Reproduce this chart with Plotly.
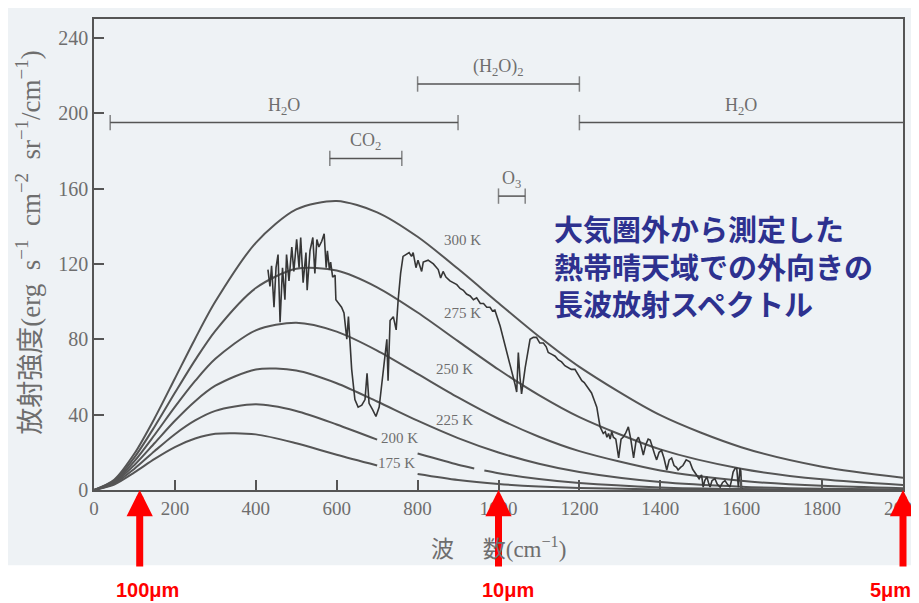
import plotly.graph_objects as go

# ---------------- data ----------------
NU = [0, 50, 100, 150, 200, 250, 300, 400, 500, 600, 700, 800, 900, 1000,
      1100, 1200, 1400, 1600, 1800, 2000]
B300 = [0, 5.49, 19.35, 38.17, 59.19, 80.32, 100.0, 131.2, 148.9, 153.4, 147.4,
        134.4, 117.4, 99.25, 81.5, 65.37, 39.7, 22.7, 12.37, 6.5]
B275 = [0, 4.98, 17.32, 33.72, 51.58, 68.96, 84.52, 107.2, 117.4, 116.5, 107.6,
        94.21, 79.0, 63.96, 50.36, 38.68, 21.54, 11.29, 5.64, 2.72]
B250 = [0, 4.47, 15.31, 29.32, 44.08, 57.87, 69.6, 84.75, 88.78, 84.07, 74.02,
        61.66, 49.16, 37.83, 28.28, 20.63, 10.36, 4.89, 2.2, 0.96]
B225 = [0, 3.95, 13.3, 24.97, 36.74, 47.15, 55.34, 64.0, 63.43, 56.68, 46.99,
        36.8, 27.57, 19.93, 13.98, 9.57, 4.23, 1.76, 0.7, 0.27]
NU200 = [0, 50, 100, 150, 200, 250, 300, 400, 500, 600, 700, 750, 800, 900, 940,
         952, 965, 1000, 1100, 1200, 1400, 1600, 1800, 2000]
B200 = [0, 3.44, 11.31, 20.7, 29.63, 36.92, 42.01, 45.45, 41.95, 34.8, 26.74, None,
        19.36, 13.42, 11.45, None, 10.35, 8.95, 5.8, 3.67, 1.38, 0.49, 0.165, 0.054]
NU175 = [0, 50, 100, 150, 200, 250, 300, 400, 500, 600, 700, 750, 800, 900, 1000,
         1100, 1200, 1400, 1600, 1800, 2000]
B175 = [0, 2.93, 9.34, 16.53, 22.8, 27.32, 29.83, 29.53, 24.81, 18.67, 12.97, None,
        8.5, 5.31, 3.2, 1.87, 1.07, 0.33, 0.095, 0.026, 0.007]

SPEC_NU = [430, 435, 439, 445, 450, 455, 460, 466, 472, 476, 482, 489, 494, 501, 507,
           511, 517, 524, 527, 534, 541, 546, 551, 556, 563, 569, 574, 577, 582, 585,
           590, 596, 598, 604, 612, 618, 625, 629, 633, 637, 645, 653, 662, 670, 675,
           680, 689, 697, 705, 711, 719, 724, 727, 732, 740, 747, 752, 758, 764, 773,
           779, 785, 789, 796, 801, 810, 814, 826, 839, 851, 857, 863, 870, 880, 888,
           897, 905, 913, 921, 930, 938, 946, 955, 963, 971, 979, 985, 991, 1004, 1020,
           1036, 1041, 1045, 1049, 1053, 1057, 1066, 1078, 1086, 1094, 1102, 1111, 1118,
           1123, 1132, 1140, 1148, 1156, 1164, 1172, 1180, 1189, 1197, 1206, 1212, 1218,
           1224, 1230, 1236, 1243, 1251, 1255, 1259, 1264, 1268, 1272, 1276, 1280, 1284,
           1290, 1297, 1303, 1308, 1314, 1321, 1327, 1334, 1340, 1346, 1352, 1358, 1364,
           1370, 1375, 1381, 1386, 1391, 1397, 1403, 1409, 1416, 1422, 1428, 1434, 1440,
           1444, 1450, 1456, 1464, 1473, 1480, 1486, 1490, 1496, 1502, 1506, 1510, 1515,
           1519, 1523, 1528, 1535, 1541, 1548, 1554, 1560, 1566, 1572, 1576, 1580, 1585,
           1589, 1593, 1597, 1599, 1601]
SPEC_B = [117, 108, 119, 97, 118, 125, 89, 118, 101, 125, 111, 129, 116, 133, 118,
          134, 110, 126, 106, 127, 134, 115, 133, 129, 132, 136, 118, 127, 117, 121,
          113, 114, 101, 99, 97, 94, 80, 92, 75, 64, 48, 44, 45, 48, 62,
          46, 42.5, 39, 44, 55, 69, 80, 58, 90, 92, 85, 101, 115, 124, 125,
          126, 124, 126, 118, 122, 116, 121, 122, 120, 117, 112.5, 116, 113, 111, 110,
          109, 107, 106, 104, 103, 101, 102, 99, 99, 97, 97, 95, 95.5, 87, 74,
          60, 56, 52, 73, 60, 51, 65, 80, 81, 81, 78, 78, 76,
          73, 72, 71, 69, 68, 66, 65, 64, 64, 61, 58, 57, 55,
          53, 51.5, 48, 44, 33.6, 32, 30, 31, 28, 30, 27, 31, 28,
          27, 17, 27, 28, 30, 33.5, 27, 17, 26, 28, 24, 18.6, 24,
          27, 26.5, 22, 19, 16, 20, 21, 17, 10.6, 16, 17, 13, 12,
          10.6, 12, 13, 16, 15, 11, 9, 8, 6, 8, 1.5, 5, 7,
          4, 1.6, 5, 6, 3, 1.5, 4, 5, 3, 1.6, 5, 9.5, 11.5,
          11.5, 1.5, 11.5, 10, 0.5]

TEMP_LABELS = ["300 K", "275 K", "250 K", "225 K", "200 K", "175 K"]
TEMP_LABEL_NU = [910, 910, 892, 892, 756, 749]
TEMP_LABEL_B = [132.7, 94, 64.2, 37.2, 27.6, 14.3]

BAND_LABELS = ["H<sub>2</sub>O", "(H<sub>2</sub>O)<sub>2</sub>", "H<sub>2</sub>O",
               "CO<sub>2</sub>", "O<sub>3</sub>"]
BAND_START = [40, 800, 1200, 583, 1000]
BAND_END = [900, 1200, 2000, 761, 1066]
BAND_LEVEL = [195, 215.5, 195, 176, 156]

NOTE_LINES = ["大気圏外から測定した", "熱帯晴天域での外向きの", "長波放射スペクトル"]
NOTE_NU = 1132
NOTE_B = 119.4

ARROW_NU = [113, 1000, 2000]
ARROW_LABELS = ["100μm", "10μm", "5μm"]
ARROW_LABEL_NU = [133, 1023, 1970]

X_TICKS = [0, 200, 400, 600, 800, 1000, 1200, 1400, 1600, 1800, 2000]
Y_TICKS = [0, 40, 80, 120, 160, 200, 240]

# ---------------- styling ----------------
SCAN_BG = "#eef2f5"
INK = "#555555"
TXT = "#6e6e6e"
SERIF = "Liberation Serif, Noto Sans CJK JP, serif"

fig = go.Figure()

for xs, ys in [(NU, B300), (NU, B275), (NU, B250), (NU, B225), (NU200, B200), (NU175, B175)]:
    fig.add_trace(go.Scatter(x=xs, y=ys, mode="lines",
                             line=dict(color=INK, width=2, shape="spline", smoothing=0.8),
                             connectgaps=False, hoverinfo="skip", showlegend=False))

fig.add_trace(go.Scatter(x=SPEC_NU, y=SPEC_B, mode="lines", line=dict(color="#363636", width=1.6),
                         hoverinfo="skip", showlegend=False))

for s, e, lv in zip(BAND_START, BAND_END, BAND_LEVEL):
    sizes = [11, 11] if e < 2000 else [11, 0]
    fig.add_trace(go.Scatter(x=[s, e], y=[lv, lv], mode="lines+markers",
                             line=dict(color=INK, width=1.5),
                             marker=dict(symbol="line-ns", size=sizes, line=dict(color=INK, width=1.5)),
                             hoverinfo="skip", showlegend=False))

annotations = []
for t, x, y in zip(TEMP_LABELS, TEMP_LABEL_NU, TEMP_LABEL_B):
    annotations.append(dict(x=x, y=y, xref="x", yref="y", text=t, showarrow=False,
                            font=dict(family=SERIF, size=15, color=TXT)))
for lab, s, e, lv in zip(BAND_LABELS, BAND_START, BAND_END, BAND_LEVEL):
    annotations.append(dict(x=(s + e) / 2, y=lv, xref="x", yref="y", text=lab, showarrow=False,
                            yanchor="bottom", yshift=3,
                            font=dict(family=SERIF, size=18, color=TXT)))
annotations.append(dict(x=NOTE_NU, y=NOTE_B, xref="x", yref="y",
                        text="<b>" + "<br>".join(NOTE_LINES) + "</b>",
                        showarrow=False, xanchor="left", yanchor="middle", align="left",
                        font=dict(family="Noto Sans CJK JP", size=29, color="#2d318f")))
for x in ARROW_NU:
    annotations.append(dict(x=x, y=0, xref="x", yref="y", text="", showarrow=True,
                            ax=0, ay=78, arrowcolor="#ff0000", arrowwidth=7, arrowhead=2,
                            arrowsize=0.75, standoff=0))
for lab, x in zip(ARROW_LABELS, ARROW_LABEL_NU):
    annotations.append(dict(x=x, y=-0.2123, xref="x", yref="paper", text="<b>" + lab + "</b>",
                            showarrow=False, xanchor="center", yanchor="middle",
                            font=dict(family="Liberation Sans, Arial", size=20, color="#ff0000")))
# axis titles
annotations.append(dict(x=-0.0816, y=0.525, xref="paper", yref="paper", textangle=-90, showarrow=False,
                        xanchor="center", yanchor="middle",
                        text="放射強度(erg&nbsp; s<sup>−1</sup>&nbsp; cm<sup>−2</sup>&nbsp; sr<sup>−1</sup>/cm<sup>−1</sup>)",
                        font=dict(family=SERIF, size=27, color=TXT)))
annotations.append(dict(x=0.5, y=-0.123, xref="paper", yref="paper", showarrow=False,
                        xanchor="center", yanchor="middle",
                        text="波　&nbsp;数(cm<sup>−1</sup>)",
                        font=dict(family=SERIF, size=23, color=TXT)))

# the page body has an 8px margin, so the figure is drawn 8px right/down
fig.update_layout(
    width=911, height=595, autosize=False,
    margin=dict(l=86, r=16, t=11, b=113),
    paper_bgcolor="white", plot_bgcolor=SCAN_BG,
    annotations=annotations,
    shapes=[dict(type="rect", xref="paper", yref="paper", x0=-0.2, x1=1.1, y0=-0.16, y1=1.1,
                 fillcolor=SCAN_BG, line=dict(width=0), layer="below")],
    xaxis=dict(range=[0, 2000], tickvals=X_TICKS, ticktext=[str(v) for v in X_TICKS],
               ticks="inside", ticklen=10, tickwidth=1.5, tickcolor=INK,
               showline=True, linecolor=INK, linewidth=1.5, mirror=True,
               showgrid=False, zeroline=False, automargin=False, ticklabeloverflow="allow",
               tickfont=dict(family=SERIF, size=19, color=TXT)),
    yaxis=dict(range=[0, 250], tickvals=Y_TICKS, ticks="inside", ticklen=10, tickwidth=1.5,
               tickcolor=INK, showline=True, linecolor=INK, linewidth=1.5, mirror=True,
               showgrid=False, zeroline=False, automargin=False,
               tickfont=dict(family=SERIF, size=20, color=TXT)),
)

fig.write_html("out.html")
